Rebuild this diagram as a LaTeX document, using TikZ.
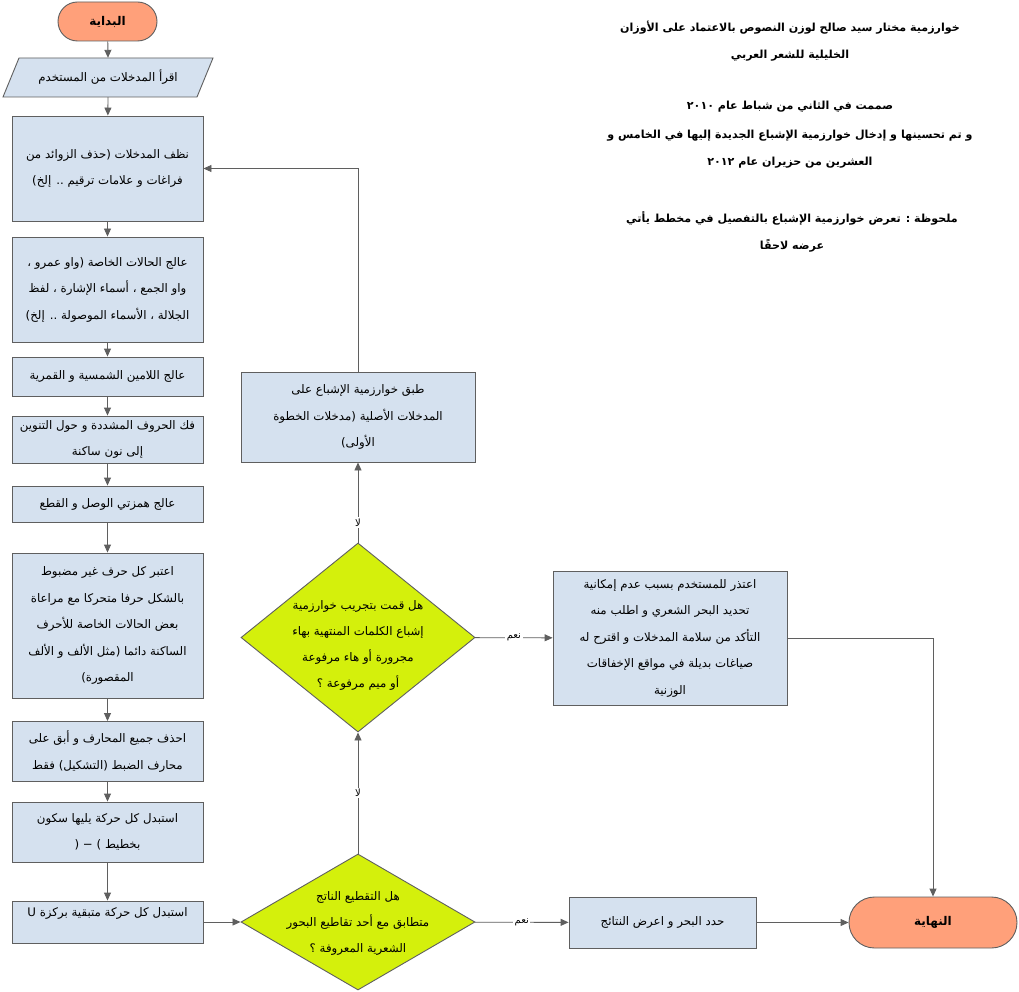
\documentclass[tikz,border=0pt]{standalone}
\usepackage{fontspec}
\newfontfamily\arabicfont[Script=Arabic]{DejaVu Sans}
\TeXXeTstate=1
\usetikzlibrary{shapes.geometric,arrows.meta}
\definecolor{boxfill}{HTML}{D5E1EF}
\definecolor{linegray}{HTML}{5F5F5F}
\definecolor{dfill}{HTML}{D4F00C}
\definecolor{tfill}{HTML}{FFA07A}
\newcommand\artx[1]{{\arabicfont\beginR #1\endR}}
\begin{document}
\begin{tikzpicture}[x=1pt,y=-1pt,
  txt/.style={align=center,font=\fontsize{11.8}{26.5}\selectfont},
  box/.style={draw=linegray,fill=boxfill,line width=0.9pt,minimum width=191pt,inner sep=2pt,txt},
  wbox/.style={box,minimum width=234pt},
  term/.style={draw=linegray,fill=tfill,line width=0.9pt,inner sep=0pt,font=\fontsize{12}{14}\selectfont\bfseries},
  dia/.style={diamond,draw=linegray,fill=dfill,line width=0.9pt,inner sep=0pt,minimum width=234pt},
  dtext/.style={txt,font=\fontsize{11.8}{26}\selectfont},
  arr/.style={draw=linegray,line width=0.9pt,-{Triangle[length=8pt,width=7pt]}},
  lbl/.style={fill=white,inner sep=1.5pt,font=\fontsize{10}{12}\selectfont},
  ttl/.style={font=\fontsize{11.1}{13}\selectfont\bfseries}]
\useasboundingbox[fill=white] (0,0) rectangle (1019,992);

% start / input
\node[term,rounded corners=19.5pt,minimum width=99pt,minimum height=39pt] (st) at (107.5,21.5) {\artx{البداية}};
\fill[boxfill,draw=linegray,line width=0.9pt] (19,58) -- (213,58) -- (197,97) -- (3,97) -- cycle;
\node[txt,minimum width=190pt,minimum height=39pt,inner sep=0pt] (in) at (108,77.5) {\artx{اقرأ المدخلات من المستخدم}};

% left column
\node[box,minimum height=105pt] (b1) at (107.5,168.5) {\artx{نظف المدخلات (حذف الزوائد من}\\\artx{فراغات و علامات ترقيم .. إلخ)}};
\node[box,minimum height=105pt] (b2) at (107.5,289.5) {\artx{عالج الحالات الخاصة (واو عمرو ،}\\\artx{واو الجمع ، أسماء الإشارة ، لفظ}\\\artx{الجلالة ، الأسماء الموصولة .. إلخ)}};
\node[box,minimum height=39pt] (b3) at (107.5,376.5) {\artx{عالج اللامين الشمسية و القمرية}};
\node[box,minimum height=47pt] (b4) at (107.5,439.5) {\artx{فك الحروف المشددة و حول التنوين}\\\artx{إلى نون ساكنة}};
\node[box,minimum height=36pt] (b5) at (107.5,504) {\artx{عالج همزتي الوصل و القطع}};
\node[box,minimum height=145pt] (b6) at (107.5,625.5) {\artx{اعتبر كل حرف غير مضبوط}\\\artx{بالشكل حرفا متحركا مع مراعاة}\\\artx{بعض الحالات الخاصة للأحرف}\\\artx{الساكنة دائما (مثل الألف و الألف}\\\artx{المقصورة)}};
\node[box,minimum height=60pt] (b7) at (107.5,751.5) {\artx{احذف جميع المحارف و أبق على}\\\artx{محارف الضبط (التشكيل) فقط}};
\node[box,minimum height=60pt] (b8) at (107.5,832) {\artx{استبدل كل حركة يليها سكون}\\{\arabicfont ( − )} \artx{بخطيط}};
\node[box,minimum height=42pt,label={[txt,yshift=9pt]center:{\artx{استبدل كل حركة متبقية بركزة U}}}] (b9) at (107.5,922) {};

% middle column
\node[wbox,minimum height=90pt] (t) at (358,417) {\artx{طبق خوارزمية الإشباع على}\\\artx{المدخلات الأصلية (مدخلات الخطوة}\\\artx{الأولى)}};
\node[dia,minimum height=189pt,label={[dtext,yshift=-8pt]center:{\artx{هل قمت بتجريب خوارزمية}\\\artx{إشباع الكلمات المنتهية بهاء}\\\artx{مجرورة أو هاء مرفوعة}\\\artx{أو ميم مرفوعة ؟}}}] (d2) at (358,637.5) {};
\node[dia,minimum height=136pt,label={[dtext,yshift=-1pt]center:{\artx{هل التقطيع الناتج}\\\artx{متطابق مع أحد تقاطيع البحور}\\\artx{الشعرية المعروفة ؟}}}] (d1) at (358,922) {};

% right column
\node[wbox,minimum height=134pt] (ap) at (670,638) {\artx{اعتذر للمستخدم بسبب عدم إمكانية}\\\artx{تحديد البحر الشعري و اطلب منه}\\\artx{التأكد من سلامة المدخلات و اقترح له}\\\artx{صياغات بديلة في مواقع الإخفاقات}\\\artx{الوزنية}};
\node[box,minimum width=187pt,minimum height=51pt] (h) at (662.5,922.5) {\artx{حدد البحر و اعرض النتائج}};
\node[term,rounded corners=25.5pt,minimum width=168pt,minimum height=51pt] (e) at (933,922.5) {\artx{النهاية}};

% title block
\node[ttl] (l1) at (790,28) {\artx{خوارزمية مختار سيد صالح لوزن النصوص بالاعتماد على الأوزان}};
\node[ttl] (l2) at (790,56) {\artx{الخليلية للشعر العربي}};
\node[ttl] (l3) at (790,107) {\artx{صممت في الثاني من شباط عام ٢٠١٠}};
\node[ttl] (l4) at (790,136) {\artx{و تم تحسينها و إدخال خوارزمية الإشباع الجديدة إليها في الخامس و}};
\node[ttl] (l5) at (790,163) {\artx{العشرين من حزيران عام ٢٠١٢}};
\node[ttl] (l6) at (792,218) {\artx{ملحوظة : تعرض خوارزمية الإشباع بالتفصيل في مخطط يأتي}};
\node[ttl] (l7) at (792,246) {\artx{عرضه لاحقًا}};

% connectors
\draw[arr] (st) -- (in.north);
\draw[arr] (in.south) -- (b1);
\draw[arr] (b1) -- (b2);
\draw[arr] (b2) -- (b3);
\draw[arr] (b3) -- (b4);
\draw[arr] (b4) -- (b5);
\draw[arr] (b5) -- (b6);
\draw[arr] (b6) -- (b7);
\draw[arr] (b7) -- (b8);
\draw[arr] (b8) -- (b9);
\draw[arr] (b9) -- (d1);
\draw[arr] (d1) -- node[lbl]{\artx{لا}} (d2);
\draw[arr] (d2) -- node[lbl,pos=0.25]{\artx{لا}} (t);
\draw[arr] (t.north) |- (b1.east);
\draw[arr] (d2) -- node[lbl]{\artx{نعم}} (ap);
\draw[arr] (ap.east) -| (e.north);
\draw[arr] (d1) -- node[lbl]{\artx{نعم}} (h);
\draw[arr] (h) -- (e);
\end{tikzpicture}
\end{document}
